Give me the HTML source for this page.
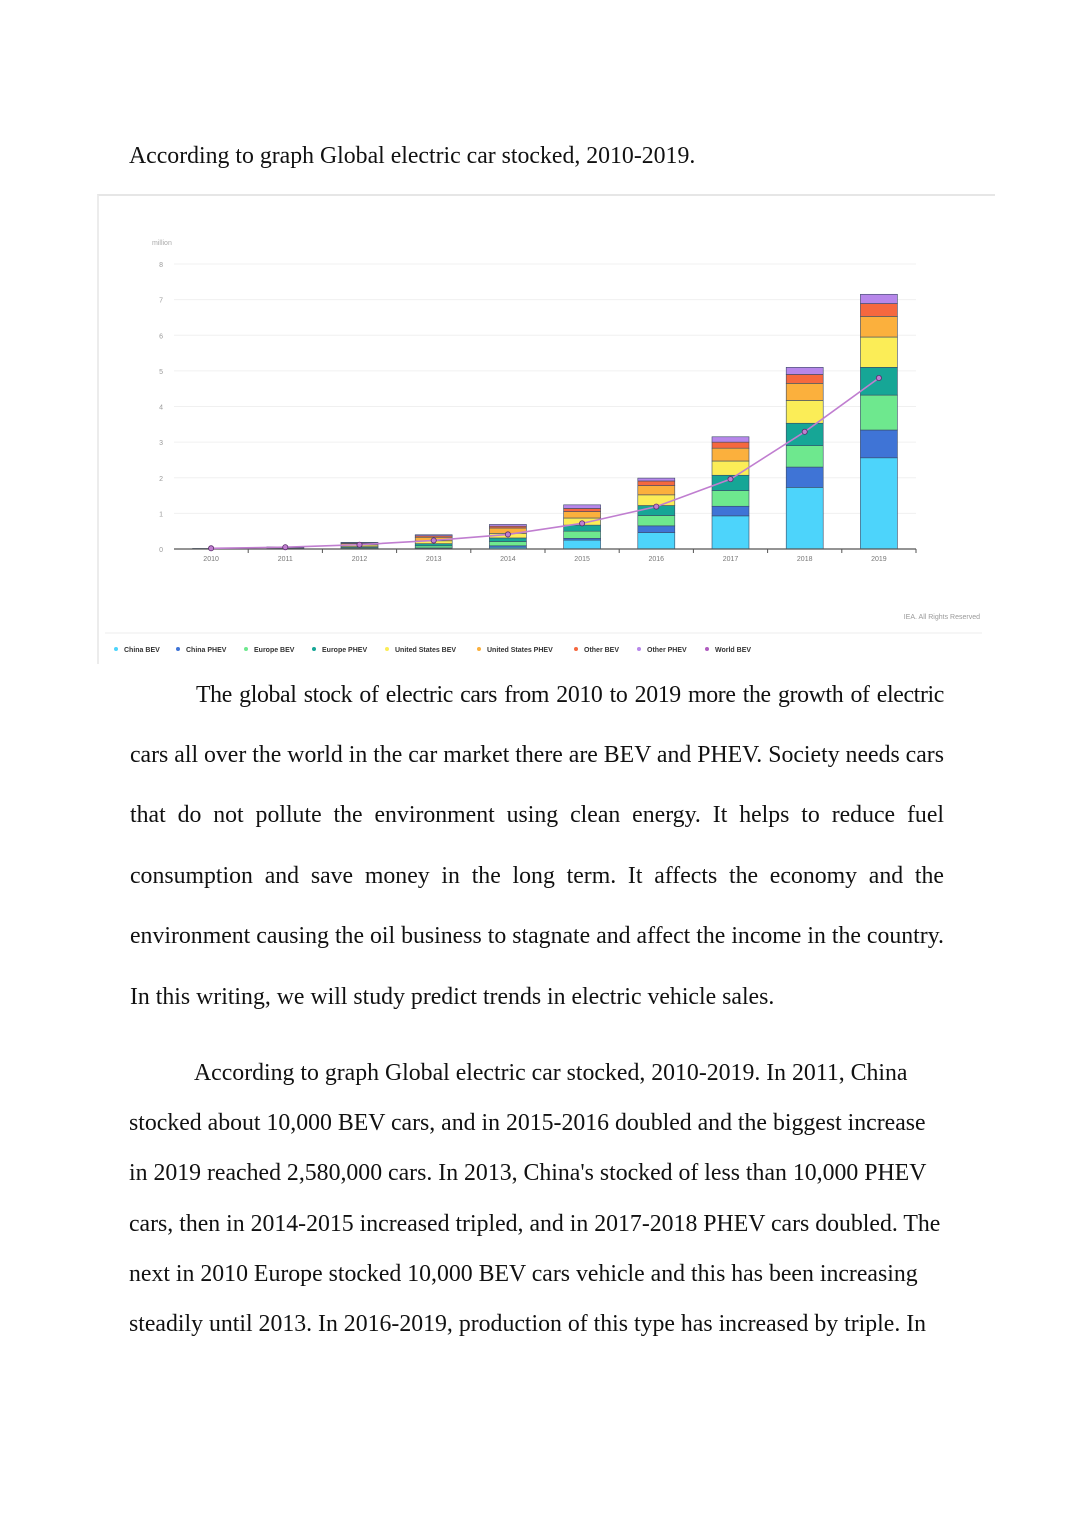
<!DOCTYPE html>
<html><head><meta charset="utf-8"><style>
body{margin:0;width:1076px;height:1522px;background:#fff;position:relative;overflow:hidden;font-family:"Liberation Serif",serif;color:#111}
.l{position:absolute;font-size:23.8px;line-height:28px;white-space:nowrap}
.j{text-align:justify;text-align-last:justify;white-space:normal;height:28px}
</style></head><body>
<div class="l" style="left:129px;top:142px">According to graph Global electric car stocked, 2010-2019.</div>
<div style="position:absolute;left:97px;top:194px;width:896px;height:468px;border-top:2px solid #e6e6e6;border-left:2px solid #ececec"></div>
<svg id="chart" width="1076" height="680" style="position:absolute;left:0;top:0" font-family="Liberation Sans, sans-serif"></svg>

<div class="l j" style="left:196px;top:681px;width:748px;letter-spacing:-0.35px">The global stock of electric cars from 2010 to 2019 more the growth of electric</div>
<div class="l j" style="left:130px;top:741px;width:814px">cars all over the world in the car market there are BEV and PHEV. Society needs cars</div>
<div class="l j" style="left:130px;top:801px;width:814px">that do not pollute the environment using clean energy. It helps to reduce fuel</div>
<div class="l j" style="left:130px;top:862px;width:814px">consumption and save money in the long term. It affects the economy and the</div>
<div class="l j" style="left:130px;top:922px;width:814px">environment causing the oil business to stagnate and affect the income in the country.</div>
<div class="l" style="left:130px;top:983px">In this writing, we will study predict trends in electric vehicle sales.</div>

<div class="l" style="left:194px;top:1059px">According to graph Global electric car stocked, 2010-2019. In 2011, China</div>
<div class="l" style="left:129px;top:1109px">stocked about 10,000 BEV cars, and in 2015-2016 doubled and the biggest increase</div>
<div class="l" style="left:129px;top:1159px">in 2019 reached 2,580,000 cars. In 2013, China's stocked of less than 10,000 PHEV</div>
<div class="l" style="left:129px;top:1210px">cars, then in 2014-2015 increased tripled, and in 2017-2018 PHEV cars doubled. The</div>
<div class="l" style="left:129px;top:1260px">next in 2010 Europe stocked 10,000 BEV cars vehicle and this has been increasing</div>
<div class="l" style="left:129px;top:1310px">steadily until 2013. In 2016-2019, production of this type has increased by triple. In</div>

<script>
const years=["2010","2011","2012","2013","2014","2015","2016","2017","2018","2019"];
const seriesNames=["China BEV","China PHEV","Europe BEV","Europe PHEV","United States BEV","United States PHEV","Other BEV","Other PHEV"];
const seriesColors=["#4dd4fb","#3f74d6","#6ee88e","#16a696","#fbed57","#fbb03d","#f5683f","#b787ea"];
const chinaBEV=[0.001,0.005,0.01,0.02,0.05,0.25,0.46,0.93,1.73,2.56];
const chinaPHEV=[0,0.001,0.005,0.01,0.04,0.05,0.19,0.27,0.57,0.78];
const europeBEV=[0.006,0.015,0.03,0.06,0.12,0.2,0.29,0.44,0.6,0.98];
const europePHEV=[0,0.005,0.02,0.06,0.1,0.17,0.28,0.43,0.63,0.78];
const usBEV=[0.003,0.015,0.05,0.08,0.13,0.2,0.3,0.4,0.64,0.85];
const usPHEV=[0,0.005,0.04,0.1,0.15,0.18,0.26,0.36,0.48,0.58];
const otherBEV=[0.004,0.01,0.02,0.04,0.05,0.09,0.13,0.17,0.25,0.36];
const otherPHEV=[0,0.005,0.01,0.03,0.05,0.1,0.08,0.15,0.2,0.26];
const worldBEV=[0.02,0.05,0.12,0.24,0.41,0.72,1.19,1.96,3.29,4.8];
const yTicks=[0,1,2,3,4,5,6,7,8];
const stacks=[chinaBEV,chinaPHEV,europeBEV,europePHEV,usBEV,usPHEV,otherBEV,otherPHEV];

const NS="http://www.w3.org/2000/svg";
const svg=document.getElementById('chart');
const x0=174,x1=916,y0=549,yTop=264;
const step=(x1-x0)/years.length;
const xc=i=>x0+step*(i+0.5);
const y=v=>y0-(v/8)*(y0-yTop);
function mk(t,a,p){const e=document.createElementNS(NS,t);for(const k in a)e.setAttribute(k,a[k]);(p||svg).appendChild(e);return e;}

const ml=mk('text',{x:152,y:245,'font-size':7,fill:'#aaa'});ml.textContent='million';


yTicks.forEach(t=>{
  const g=mk('line',{x1:x0,x2:x1,y1:y(t),y2:y(t),stroke:'#f0f0f0','stroke-width':1});
  
  
  const tx=mk('text',{x:163,y:y(t)+3,'font-size':7,fill:'#999','text-anchor':'end'});tx.textContent=t;
  
  
});
years.forEach((yr,i)=>{
  let base=0;
  stacks.forEach((s,k)=>{
    const r=mk('rect',{x:xc(i)-18.5,y:y(base+s[i]),width:37,height:Math.max(0,y(base)-y(base+s[i])),fill:seriesColors[k],stroke:'#3a4a66','stroke-width':0.6});
    
    
    base+=s[i];
  });
  const tl=mk('text',{x:xc(i),y:561,'font-size':7,fill:'#777','text-anchor':'middle'});tl.textContent=yr;
  
  
  if(i>0){const tk=mk('line',{x1:x0+step*i,x2:x0+step*i,y1:y0,y2:y0+4,stroke:'#555','stroke-width':1});
  
  }
});
const ax=mk('line',{x1:x0,x2:x1,y1:y0,y2:y0,stroke:'#555','stroke-width':1.2});


const tkEnd=mk('line',{x1:x1,x2:x1,y1:y0,y2:y0+4,stroke:'#555','stroke-width':1});


let d='';worldBEV.forEach((v,i)=>{d+=(i?'L':'M')+xc(i)+' '+y(v);});
const ln=mk('path',{d:d,fill:'none',stroke:'#c07ed0','stroke-width':1.6});


worldBEV.forEach((v,i)=>{
  const c=mk('circle',{cx:xc(i),cy:y(v),r:2.6,fill:'#c07ed0',stroke:'#5a2d6a','stroke-width':0.8});
  
  
});
const cr=mk('text',{x:980,y:619,'font-size':7,fill:'#999','text-anchor':'end'});cr.textContent='IEA. All Rights Reserved';


const sep=mk('line',{x1:105,x2:982,y1:633,y2:633,stroke:'#eee','stroke-width':1});


const legX=[116,178,246,314,387,479,576,639,707];
const legNames=seriesNames.concat(['World BEV']);
const legColors=seriesColors.concat(['#b05cc0']);
legNames.forEach((n,i)=>{
  const g=mk('g',{});
  
  
  mk('circle',{cx:legX[i],cy:649,r:2,fill:legColors[i]},g);
  const t=mk('text',{x:legX[i]+8,y:652,'font-size':7,fill:'#333','font-weight':'bold'},g);t.textContent=n;
});
</script>
</body></html>
